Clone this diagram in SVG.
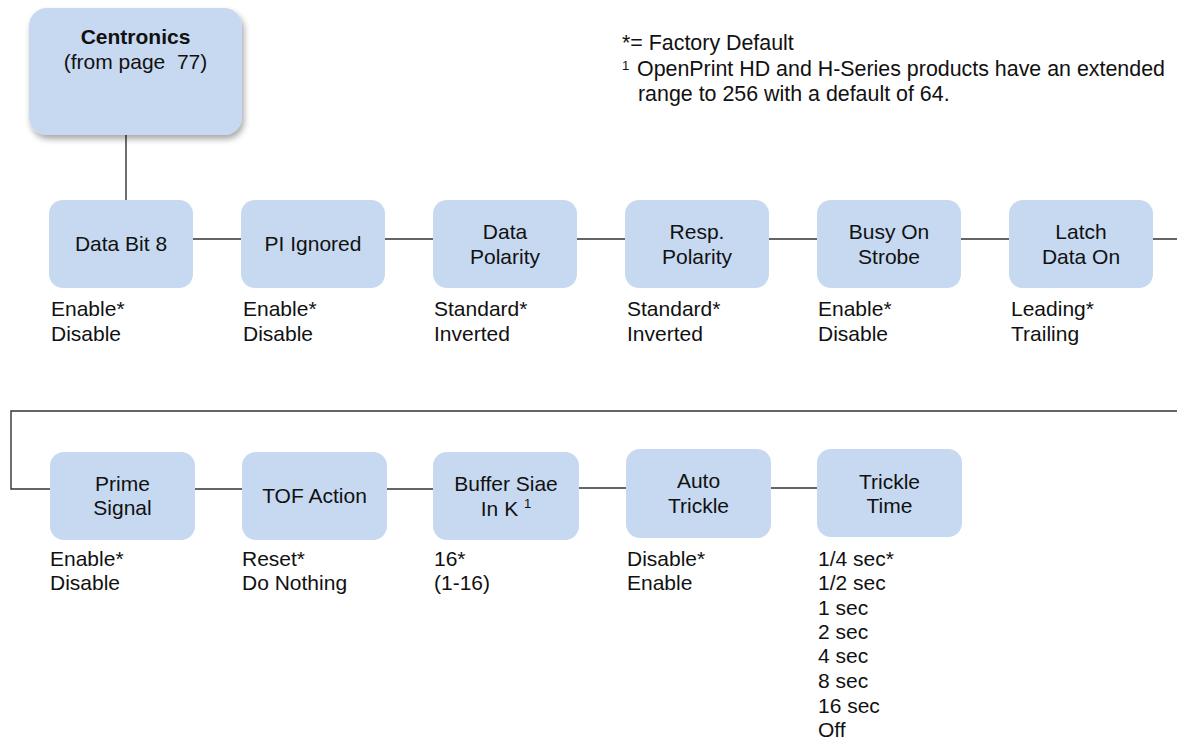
<svg xmlns="http://www.w3.org/2000/svg" width="1177" height="740" viewBox="0 0 1177 740">
<defs>
<style>
text{font-family:"Liberation Sans",Arial,sans-serif;font-size:21px;fill:#111;}
.c{text-anchor:middle;}
.b{font-weight:bold;}
.box{fill:#c6d9f0;}
.ln{stroke:#333;stroke-width:1.4;fill:none;}
.sup{font-size:13px;}
.fn{font-size:21.4px;}
</style>
<filter id="sh" x="-10%" y="-10%" width="130%" height="130%">
<feDropShadow dx="2" dy="4" stdDeviation="3" flood-color="#000" flood-opacity="0.35"/>
</filter>
</defs>
<rect width="1177" height="740" fill="#fff"/>

<g id="connectors">
<path class="ln" d="M126 135V200"/>
<path class="ln" d="M193 239H241M385 239H433M577 239H625M769 239H817M961 239H1009M1153 239H1177"/>
<path class="ln" d="M1177 411H11V489H50M195 489H242M387 489H433M579 488H626M771 488H817"/>
</g>

<g id="centronics">
<rect class="box" x="29" y="8" width="213" height="127" rx="18" filter="url(#sh)"/>
<text class="c b" x="135.5" y="44">Centronics</text>
<text class="c" x="135.5" y="69" xml:space="preserve">(from page  77)</text>
</g>

<g id="legend">
<text class="fn" x="622" y="50">*= Factory Default</text>
<text class="fn" x="622" y="76"><tspan class="sup" dy="-6">1</tspan><tspan dy="6" x="637">OpenPrint HD and H-Series products have an extended</tspan></text>
<text class="fn" x="638" y="101">range to 256 with a default of 64.</text>
</g>

<g id="data-bit-8">
<rect class="box" x="49" y="200" width="144" height="88" rx="14"/>
<text class="c" x="121" y="251">Data Bit 8</text>
<text x="51" y="316">Enable*</text>
<text x="51" y="341">Disable</text>
</g>

<g id="pi-ignored">
<rect class="box" x="241" y="200" width="144" height="88" rx="14"/>
<text class="c" x="313" y="251">PI Ignored</text>
<text x="243" y="316">Enable*</text>
<text x="243" y="341">Disable</text>
</g>

<g id="data-polarity">
<rect class="box" x="433" y="200" width="144" height="88" rx="14"/>
<text class="c" x="505" y="239">Data</text>
<text class="c" x="505" y="264">Polarity</text>
<text x="434" y="316">Standard*</text>
<text x="434" y="341">Inverted</text>
</g>

<g id="resp-polarity">
<rect class="box" x="625" y="200" width="144" height="88" rx="14"/>
<text class="c" x="697" y="239">Resp.</text>
<text class="c" x="697" y="264">Polarity</text>
<text x="627" y="316">Standard*</text>
<text x="627" y="341">Inverted</text>
</g>

<g id="busy-on-strobe">
<rect class="box" x="817" y="200" width="144" height="88" rx="14"/>
<text class="c" x="889" y="239">Busy On</text>
<text class="c" x="889" y="264">Strobe</text>
<text x="818" y="316">Enable*</text>
<text x="818" y="341">Disable</text>
</g>

<g id="latch-data-on">
<rect class="box" x="1009" y="200" width="144" height="88" rx="14"/>
<text class="c" x="1081" y="239">Latch</text>
<text class="c" x="1081" y="264">Data On</text>
<text x="1011" y="316">Leading*</text>
<text x="1011" y="341">Trailing</text>
</g>

<g id="prime-signal">
<rect class="box" x="50" y="452" width="145" height="88" rx="14"/>
<text class="c" x="122.5" y="491">Prime</text>
<text class="c" x="122.5" y="515">Signal</text>
<text x="50" y="566">Enable*</text>
<text x="50" y="590">Disable</text>
</g>

<g id="tof-action">
<rect class="box" x="242" y="452" width="145" height="88" rx="14"/>
<text class="c" x="314.5" y="503">TOF Action</text>
<text x="242" y="566">Reset*</text>
<text x="242" y="590">Do Nothing</text>
</g>

<g id="buffer-size">
<rect class="box" x="433" y="452" width="146" height="88" rx="14"/>
<text class="c" x="506" y="491">Buffer Siae</text>
<text class="c" x="506" y="516">In K <tspan class="sup" dy="-8">1</tspan></text>
<text x="434" y="566">16*</text>
<text x="434" y="590">(1-16)</text>
</g>

<g id="auto-trickle">
<rect class="box" x="626" y="449" width="145" height="89" rx="14"/>
<text class="c" x="698.5" y="488">Auto</text>
<text class="c" x="698.5" y="513">Trickle</text>
<text x="627" y="566">Disable*</text>
<text x="627" y="590">Enable</text>
</g>

<g id="trickle-time">
<rect class="box" x="817" y="449" width="145" height="88" rx="14"/>
<text class="c" x="889.5" y="489">Trickle</text>
<text class="c" x="889.5" y="513">Time</text>
<text x="818" y="566">1/4 sec*</text>
<text x="818" y="590">1/2 sec</text>
<text x="818" y="615">1 sec</text>
<text x="818" y="639">2 sec</text>
<text x="818" y="663">4 sec</text>
<text x="818" y="688">8 sec</text>
<text x="818" y="713">16 sec</text>
<text x="818" y="737">Off</text>
</g>
</svg>
